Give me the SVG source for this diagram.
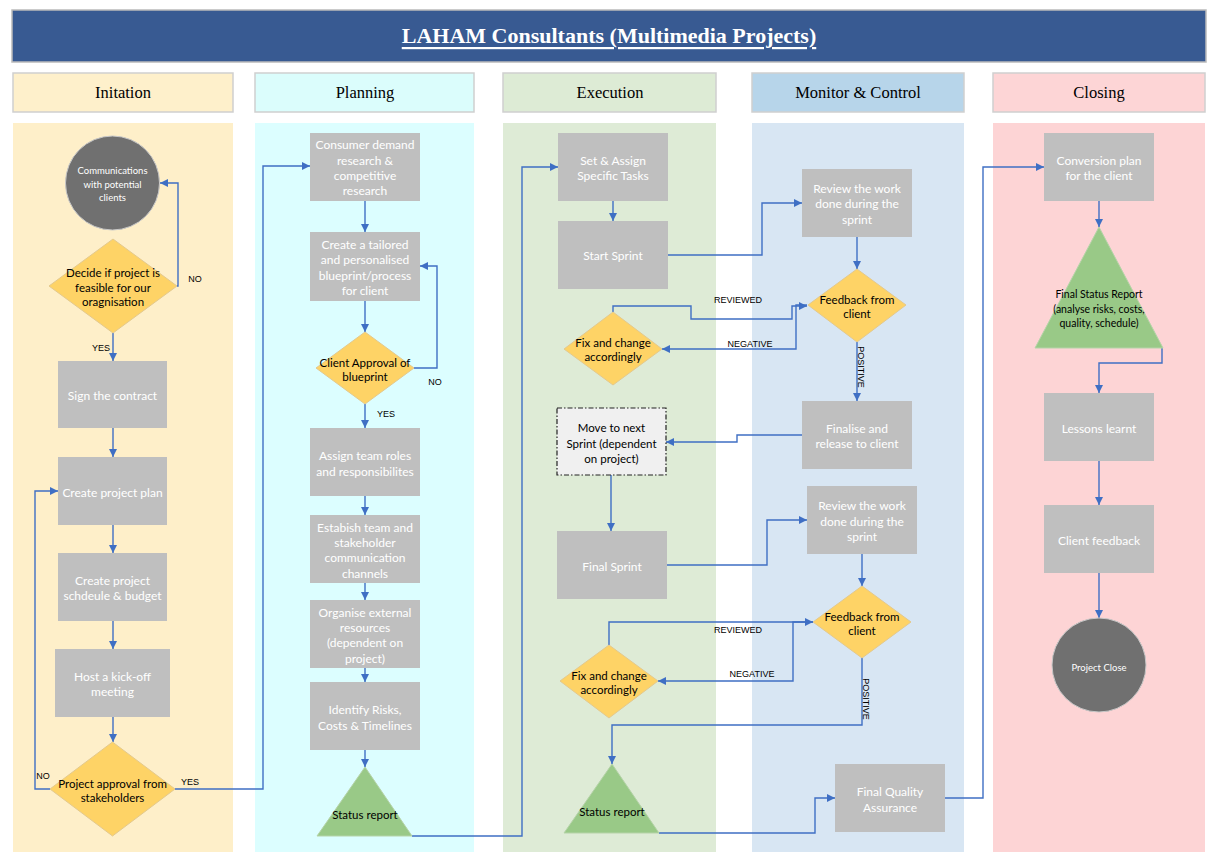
<svg xmlns="http://www.w3.org/2000/svg" width="1218" height="857" viewBox="0 0 1218 857">
<style>
.hdr{font-family:"Liberation Serif",serif;font-size:16.5px;fill:#000;text-anchor:middle;dominant-baseline:central}
.w{font-family:Lato,"Liberation Sans",sans-serif;font-size:12px;fill:#fff;text-anchor:middle;dominant-baseline:central}
.k{font-family:Lato,"Liberation Sans",sans-serif;font-size:11.5px;fill:#000;text-anchor:middle;dominant-baseline:central}
.ws{font-family:Lato,"Liberation Sans",sans-serif;font-size:9.5px;fill:#fff;text-anchor:middle;dominant-baseline:central}
.ks{font-family:Lato,"Liberation Sans",sans-serif;font-size:10.5px;fill:#000;text-anchor:middle;dominant-baseline:central}
.lbl{font-family:"Liberation Sans",sans-serif;font-size:9px;fill:#000;dominant-baseline:central}
.box{fill:#BFBFBF}
.dia{fill:#FED366;stroke:#E3C98E;stroke-width:1}
.tri{fill:#99C987;stroke:#B5D3A8;stroke-width:1}
.circ{fill:#707070;stroke:#C8C8C8;stroke-width:1}
.con{fill:none;stroke:#3F6FC4;stroke-width:1.4;marker-end:url(#ah)}
.lh{stroke:#CFCFCF;stroke-width:1.5}
</style>
<defs>
<marker id="ah" markerUnits="userSpaceOnUse" markerWidth="10" markerHeight="10" refX="8" refY="4" orient="auto">
<path d="M0,0 L8,4 L0,8 Z" fill="#3F6FC4"/>
</marker>
</defs>
<rect width="1218" height="857" fill="#fff"/>
<g id="title">
<rect x="12" y="10" width="1194" height="52" fill="#385A92" stroke="#BBBBBB" stroke-width="1.5"/>
<text x="609" y="35.5" font-family="'Liberation Serif',serif" font-size="22" font-weight="bold" fill="#fff" text-anchor="middle" dominant-baseline="central" text-decoration="underline">LAHAM Consultants (Multimedia Projects)</text>
</g>
<g id="lanes">
<rect class="lh" x="13" y="73" width="220" height="39" fill="#FEF0CB"/>
<text class="hdr" x="123" y="92">Initation</text>
<rect x="13" y="123" width="220" height="729" fill="#FEEFC9"/>
<rect class="lh" x="255" y="73" width="219" height="39" fill="#DBFDFC"/>
<text class="hdr" x="365" y="92">Planning</text>
<rect x="255" y="123" width="219" height="729" fill="#DCFEFF"/>
<rect class="lh" x="503" y="73" width="213" height="39" fill="#DDEBD5"/>
<text class="hdr" x="610" y="92">Execution</text>
<rect x="503" y="123" width="213" height="729" fill="#DEEBD6"/>
<rect class="lh" x="752" y="73" width="212" height="39" fill="#B7D5EA"/>
<text class="hdr" x="858" y="92">Monitor &amp; Control</text>
<rect x="752" y="123" width="212" height="729" fill="#D8E6F3"/>
<rect class="lh" x="993" y="73" width="212" height="39" fill="#FDD5D6"/>
<text class="hdr" x="1099" y="92">Closing</text>
<rect x="993" y="123" width="212" height="729" fill="#FDD4D5"/>
</g>
<g id="connectors">
<path class="con" d="M177,286 H178 V183 H160"/>
<path class="con" d="M113,333 V361"/>
<path class="con" d="M113,428 V457"/>
<path class="con" d="M113,525 V553"/>
<path class="con" d="M113,621 V649"/>
<path class="con" d="M113,717 V742"/>
<path class="con" d="M50,789 H35 V491 H58"/>
<path class="con" d="M175,789 H263 V166 H310"/>
<path class="con" d="M365,201 V232"/>
<path class="con" d="M365,301 V332"/>
<path class="con" d="M414,368 H437 V266 H420"/>
<path class="con" d="M365,404 V428"/>
<path class="con" d="M365,496 V515"/>
<path class="con" d="M365,583 V600"/>
<path class="con" d="M365,668 V682"/>
<path class="con" d="M365,750 V767"/>
<path class="con" d="M412,836 H522 V167 H558"/>
<path class="con" d="M613,201 V221"/>
<path class="con" d="M668,255 H762 V203 H802"/>
<path class="con" d="M857,237 V269"/>
<path class="con" d="M613,312 V306 H691 V319 H792 V306 H807"/>
<path class="con" d="M807,305 H796 V349 H662"/>
<path class="con" d="M857,342 V401"/>
<path class="con" d="M802,435 H737 V442 H666"/>
<path class="con" d="M611,475 V531"/>
<path class="con" d="M667,565 H767 V520 H807"/>
<path class="con" d="M862,554 V586"/>
<path class="con" d="M609,645 V622 H813"/>
<path class="con" d="M813,622 H793 V681 H658"/>
<path class="con" d="M862,658 V725 H612 V764"/>
<path class="con" d="M659,833 H815 V798 H835"/>
<path class="con" d="M945,798 H983 V167 H1044"/>
<path class="con" d="M1099,201 V227"/>
<path class="con" d="M1162,348 V363 H1099 V393"/>
<path class="con" d="M1099,461 V505"/>
<path class="con" d="M1099,573 V618"/>
<text class="lbl" x="195" y="279" text-anchor="middle">NO</text>
<text class="lbl" x="101" y="348" text-anchor="middle">YES</text>
<text class="lbl" x="43" y="776" text-anchor="middle">NO</text>
<text class="lbl" x="190" y="782" text-anchor="middle">YES</text>
<text class="lbl" x="435" y="382" text-anchor="middle">NO</text>
<text class="lbl" x="386" y="414" text-anchor="middle">YES</text>
<text class="lbl" x="738" y="300" text-anchor="middle">REVIEWED</text>
<text class="lbl" x="750" y="344" text-anchor="middle">NEGATIVE</text>
<text class="lbl" x="861" y="367" text-anchor="middle" transform="rotate(90 861 367)">POSITIVE</text>
<text class="lbl" x="738" y="630" text-anchor="middle">REVIEWED</text>
<text class="lbl" x="752" y="674" text-anchor="middle">NEGATIVE</text>
<text class="lbl" x="866" y="699" text-anchor="middle" transform="rotate(90 866 699)">POSITIVE</text>
</g>
<g id="n-communications">
<circle class="circ" cx="112.5" cy="183" r="47"/>
<text class="ws" x="112.5" y="170">Communications</text>
<text class="ws" x="112.5" y="184">with potential</text>
<text class="ws" x="112.5" y="197">clients</text>
</g>
<g id="n-decide">
<polygon class="dia" points="113,239 177,286 113,333 49,286"/>
<text class="k" x="113" y="272">Decide if project is</text>
<text class="k" x="113" y="287">feasible for our</text>
<text class="k" x="113" y="301">oragnisation</text>
</g>
<g id="n-sign">
<rect class="box" x="58" y="361" width="109" height="67"/>
<text class="w" x="112.5" y="395">Sign the contract</text>
</g>
<g id="n-plan">
<rect class="box" x="58" y="457" width="109" height="68"/>
<text class="w" x="112.5" y="492">Create project plan</text>
</g>
<g id="n-schedule">
<rect class="box" x="58" y="553" width="109" height="68"/>
<text class="w" x="112.5" y="580">Create project</text>
<text class="w" x="112.5" y="595">schdeule &amp; budget</text>
</g>
<g id="n-kickoff">
<rect class="box" x="55" y="649" width="115" height="68"/>
<text class="w" x="112.5" y="676">Host a kick-off</text>
<text class="w" x="112.5" y="691">meeting</text>
</g>
<g id="n-approval">
<polygon class="dia" points="112.5,742 175,789 112.5,836 50,789"/>
<text class="k" x="112.5" y="783">Project approval from</text>
<text class="k" x="112.5" y="797">stakeholders</text>
</g>
<g id="n-consumer">
<rect class="box" x="310" y="133" width="110" height="68"/>
<text class="w" x="365" y="144">Consumer demand</text>
<text class="w" x="365" y="160">research &amp;</text>
<text class="w" x="365" y="175">competitive</text>
<text class="w" x="365" y="190">research</text>
</g>
<g id="n-blueprint">
<rect class="box" x="310" y="232" width="110" height="69"/>
<text class="w" x="365" y="244">Create a tailored</text>
<text class="w" x="365" y="259">and personalised</text>
<text class="w" x="365" y="275">blueprint/process</text>
<text class="w" x="365" y="290">for client</text>
</g>
<g id="n-clientapproval">
<polygon class="dia" points="365,332 414,368 365,404 316,368"/>
<text class="k" x="365" y="362">Client Approval of</text>
<text class="k" x="365" y="376">blueprint</text>
</g>
<g id="n-roles">
<rect class="box" x="310" y="428" width="110" height="68"/>
<text class="w" x="365" y="455">Assign team roles</text>
<text class="w" x="365" y="471">and responsibilites</text>
</g>
<g id="n-channels">
<rect class="box" x="310" y="515" width="110" height="68"/>
<text class="w" x="365" y="527">Estabish team and</text>
<text class="w" x="365" y="542">stakeholder</text>
<text class="w" x="365" y="557">communication</text>
<text class="w" x="365" y="573">channels</text>
</g>
<g id="n-resources">
<rect class="box" x="310" y="600" width="110" height="68"/>
<text class="w" x="365" y="612">Organise external</text>
<text class="w" x="365" y="627">resources</text>
<text class="w" x="365" y="642">(dependent on</text>
<text class="w" x="365" y="658">project)</text>
</g>
<g id="n-risks">
<rect class="box" x="310" y="682" width="110" height="68"/>
<text class="w" x="365" y="709">Identify Risks,</text>
<text class="w" x="365" y="725">Costs &amp; Timelines</text>
</g>
<g id="n-status1">
<polygon class="tri" points="365,767 412,836 317,836"/>
<text class="k" x="365" y="814">Status report</text>
</g>
<g id="n-settasks">
<rect class="box" x="558" y="133" width="110" height="68"/>
<text class="w" x="613" y="160">Set &amp; Assign</text>
<text class="w" x="613" y="175">Specific Tasks</text>
</g>
<g id="n-startsprint">
<rect class="box" x="558" y="221" width="110" height="68"/>
<text class="w" x="613" y="255">Start Sprint</text>
</g>
<g id="n-fix1">
<polygon class="dia" points="613,312 662,349 613,385 564,349"/>
<text class="k" x="613" y="342">Fix and change</text>
<text class="k" x="613" y="356">accordingly</text>
</g>
<g id="n-nextsprint">
<rect x="557" y="408" width="109" height="67" fill="#F0F0F0" stroke="#222" stroke-width="1.2" stroke-dasharray="5,2,1.5,2"/>
<text class="k" x="611.5" y="427">Move to next</text>
<text class="k" x="611.5" y="443">Sprint (dependent</text>
<text class="k" x="611.5" y="458">on project)</text>
</g>
<g id="n-finalsprint">
<rect class="box" x="557" y="531" width="110" height="68"/>
<text class="w" x="612" y="566">Final Sprint</text>
</g>
<g id="n-fix2">
<polygon class="dia" points="609,645 658,681 609,718 560,681"/>
<text class="k" x="609" y="675">Fix and change</text>
<text class="k" x="609" y="689">accordingly</text>
</g>
<g id="n-status2">
<polygon class="tri" points="612,764 659,833 564,833"/>
<text class="k" x="612" y="811">Status report</text>
</g>
<g id="n-review1">
<rect class="box" x="802" y="169" width="110" height="68"/>
<text class="w" x="857" y="188">Review the work</text>
<text class="w" x="857" y="203">done during the</text>
<text class="w" x="857" y="219">sprint</text>
</g>
<g id="n-feedback1">
<polygon class="dia" points="857,269 906,305 857,342 808,305"/>
<text class="k" x="857" y="299">Feedback from</text>
<text class="k" x="857" y="313">client</text>
</g>
<g id="n-finalise">
<rect class="box" x="802" y="401" width="110" height="68"/>
<text class="w" x="857" y="428">Finalise and</text>
<text class="w" x="857" y="443">release to client</text>
</g>
<g id="n-review2">
<rect class="box" x="807" y="486" width="110" height="68"/>
<text class="w" x="862" y="505">Review the work</text>
<text class="w" x="862" y="521">done during the</text>
<text class="w" x="862" y="536">sprint</text>
</g>
<g id="n-feedback2">
<polygon class="dia" points="862,586 911,622 862,658 813,622"/>
<text class="k" x="862" y="616">Feedback from</text>
<text class="k" x="862" y="630">client</text>
</g>
<g id="n-qa">
<rect class="box" x="835" y="764" width="110" height="68"/>
<text class="w" x="890" y="791">Final Quality</text>
<text class="w" x="890" y="807">Assurance</text>
</g>
<g id="n-conversion">
<rect class="box" x="1044" y="133" width="110" height="68"/>
<text class="w" x="1099" y="160">Conversion plan</text>
<text class="w" x="1099" y="175">for the client</text>
</g>
<g id="n-finalstatus">
<polygon class="tri" points="1099,227 1163,348 1035,348"/>
<text class="ks" x="1099" y="294">Final Status Report</text>
<text class="ks" x="1099" y="309">(analyse risks, costs,</text>
<text class="ks" x="1099" y="323">quality, schedule)</text>
</g>
<g id="n-lessons">
<rect class="box" x="1044" y="393" width="110" height="68"/>
<text class="w" x="1099" y="428">Lessons learnt</text>
</g>
<g id="n-clientfeedback">
<rect class="box" x="1044" y="505" width="110" height="68"/>
<text class="w" x="1099" y="540">Client feedback</text>
</g>
<g id="n-close">
<circle class="circ" cx="1099" cy="665" r="47"/>
<text class="ws" x="1099" y="667">Project Close</text>
</g>
</svg>
